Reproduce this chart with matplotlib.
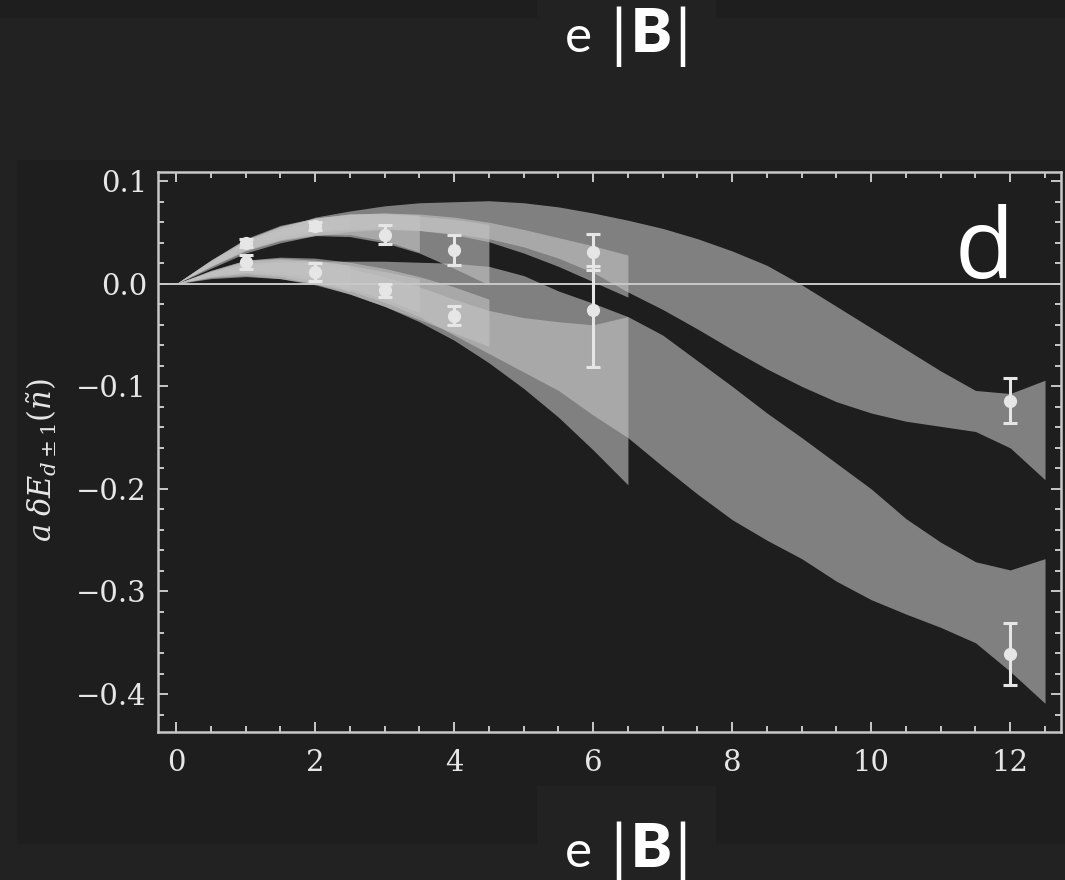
import matplotlib
matplotlib.use("Agg")
import matplotlib.pyplot as plt
from matplotlib.patches import Rectangle
from matplotlib.ticker import MultipleLocator

W, H = 1065, 880

# shared sampling grid for the fit bands
band_x = [0.0, 0.5, 1.0, 1.5, 2.0, 2.5, 3.0, 3.5, 4.0, 4.5, 5.0, 5.5, 6.0,
          6.5, 7.0, 7.5, 8.0, 8.5, 9.0, 9.5, 10.0, 10.5, 11.0, 11.5, 12.0, 12.5]

# d+1 branch: fit bands truncated at eB = 2.5, 3.5, 4.5, 6.5, 12.5
up_25_hi = [0.0, 0.022, 0.042, 0.054, 0.061, 0.064]
up_25_lo = [0.0, 0.018, 0.035, 0.046, 0.052, 0.055]
up_35_hi = [0.0, 0.023, 0.044, 0.057, 0.064, 0.068, 0.069, 0.067]
up_35_lo = [0.0, 0.017, 0.033, 0.043, 0.048, 0.048, 0.042, 0.031]
up_45_hi = [0.0, 0.023, 0.043, 0.056, 0.064, 0.068, 0.068, 0.066, 0.063, 0.058]
up_45_lo = [0.0, 0.017, 0.032, 0.042, 0.047, 0.046, 0.040, 0.030, 0.015, -0.001]
up_65_hi = [0.0, 0.023, 0.043, 0.056, 0.064, 0.068, 0.069, 0.068, 0.065, 0.060,
            0.053, 0.045, 0.037, 0.028]
up_65_lo = [0.0, 0.017, 0.033, 0.043, 0.050, 0.053, 0.054, 0.052, 0.048, 0.041,
            0.030, 0.017, 0.002, -0.013]
up_125_hi = [0.0, 0.022, 0.040, 0.054, 0.065, 0.071, 0.076, 0.079, 0.080, 0.081,
             0.079, 0.075, 0.069, 0.062, 0.054, 0.044, 0.032, 0.018, -0.001,
             -0.022, -0.043, -0.064, -0.085, -0.104, -0.107, -0.094]
up_125_lo = [0.0, 0.015, 0.030, 0.040, 0.047, 0.051, 0.053, 0.052, 0.049, 0.044,
             0.036, 0.025, 0.011, -0.008, -0.025, -0.044, -0.064, -0.083, -0.100,
             -0.115, -0.126, -0.134, -0.139, -0.144, -0.160, -0.191]

# d-1 branch
dn_25_hi = [0.0, 0.012, 0.022, 0.024, 0.022, 0.018]
dn_25_lo = [0.0, 0.008, 0.013, 0.012, 0.006, -0.008]
dn_35_hi = [0.0, 0.013, 0.023, 0.025, 0.023, 0.018, 0.012, 0.005]
dn_35_lo = [0.0, 0.007, 0.011, 0.009, 0.003, -0.005, -0.015, -0.028]
dn_45_hi = [0.0, 0.013, 0.023, 0.026, 0.025, 0.021, 0.015, 0.007, -0.003, -0.015]
dn_45_lo = [0.0, 0.007, 0.010, 0.007, 0.000, -0.010, -0.022, -0.035, -0.048, -0.061]
dn_65_hi = [0.0, 0.012, 0.020, 0.022, 0.020, 0.015, 0.007, -0.003, -0.015, -0.026,
            -0.033, -0.037, -0.040, -0.032]
dn_65_lo = [0.0, 0.006, 0.008, 0.005, -0.001, -0.010, -0.022, -0.037, -0.055, -0.077,
            -0.102, -0.130, -0.162, -0.196]
dn_125_hi = [0.0, 0.012, 0.018, 0.021, 0.022, 0.022, 0.022, 0.021, 0.020, 0.017,
             0.008, -0.007, -0.019, -0.032, -0.050, -0.075, -0.100, -0.126, -0.150,
             -0.175, -0.200, -0.229, -0.252, -0.271, -0.279, -0.268]
dn_125_lo = [0.0, 0.005, 0.007, 0.005, 0.000, -0.007, -0.018, -0.032, -0.050, -0.068,
             -0.086, -0.104, -0.128, -0.150, -0.178, -0.205, -0.230, -0.250, -0.268,
             -0.290, -0.308, -0.322, -0.335, -0.350, -0.378, -0.409]

# lattice data points
n_pts = [1, 2, 3, 4, 6, 12]
up_val = [0.040, 0.0565, 0.048, 0.033, 0.031, -0.114]
up_err = [0.004, 0.004, 0.009, 0.015, 0.018, 0.022]
dn_val = [0.021, 0.0115, -0.0065, -0.031, -0.026, -0.361]
dn_err_lo = [0.007, 0.009, 0.006, 0.009, 0.055, 0.030]
dn_err_hi = [0.007, 0.009, 0.006, 0.009, 0.043, 0.030]

x_ticks = [0, 2, 4, 6, 8, 10, 12]
y_ticks = [-0.4, -0.3, -0.2, -0.1, 0.0, 0.1]

OUTER = "#222222"
PANEL = "#1e1e1e"
FG = "#e6e6e6"
AXC = "#c8c8c8"
BAND = "#c3c3c3"


def px_rect(fig, x0, y0, x1, y1, color):
    fig.patches.append(Rectangle((x0 / W, 1 - y1 / H), (x1 - x0) / W, (y1 - y0) / H,
                                 transform=fig.transFigure, color=color, zorder=-5))


def px_text(fig, x, y, s, **kw):
    return fig.text(x / W, 1 - y / H, s, **kw)


def draw_title(fig, y_base):
    px_text(fig, 565, y_base, "e", ha="left", va="baseline", color="white",
            family="Lato", weight="normal", fontsize=37)
    px_text(fig, 631, y_base, "B", ha="left", va="baseline", color="white",
            family="Lato", weight="heavy", fontsize=44)
    for xb in (618, 682):
        px_text(fig, xb, y_base + 4, "|", ha="center", va="baseline", color="white",
                family="Lato", weight="normal", fontsize=46)


def main():
    plt.rcParams["mathtext.fontset"] = "dejavuserif"
    fig = plt.figure(figsize=(W / 100, H / 100), dpi=100, facecolor=OUTER)

    # background panels
    px_rect(fig, 0, 0, W, 17, PANEL)
    px_rect(fig, 537, 0, 715, 17, OUTER)
    px_rect(fig, 17, 160, W, 843, PANEL)
    px_rect(fig, 537, 786, 715, 843, OUTER)

    ax = fig.add_axes([158 / W, 1 - 732 / H, (1061 - 158) / W, (732 - 172) / H])
    ax.set_zorder(1)
    ax.set_facecolor(PANEL)

    bands = [
        (up_25_lo, up_25_hi), (up_35_lo, up_35_hi), (up_45_lo, up_45_hi),
        (up_65_lo, up_65_hi), (up_125_lo, up_125_hi),
        (dn_25_lo, dn_25_hi), (dn_35_lo, dn_35_hi), (dn_45_lo, dn_45_hi),
        (dn_65_lo, dn_65_hi), (dn_125_lo, dn_125_hi),
    ]
    for lo, hi in bands:
        ax.fill_between(band_x[:len(hi)], lo, hi, color=BAND, alpha=0.6,
                        linewidth=0, zorder=1)

    ax.axhline(0, color=AXC, lw=1.4, zorder=2)

    ax.errorbar(n_pts, up_val, yerr=up_err, fmt="o", color=FG, ms=8.5,
                elinewidth=2.2, capsize=5, capthick=2.2, zorder=3)
    ax.errorbar(n_pts, dn_val, yerr=[dn_err_lo, dn_err_hi], fmt="o", color=FG,
                ms=8.5, elinewidth=2.2, capsize=5, capthick=2.2, zorder=3)

    ax.set_xlim(-0.26, 12.73)
    ax.set_ylim(-0.437, 0.109)
    ax.set_xticks(x_ticks)
    ax.set_yticks(y_ticks)
    ax.set_yticklabels(["\u22120.4", "\u22120.3", "\u22120.2", "\u22120.1", "0.0", "0.1"])
    ax.xaxis.set_minor_locator(MultipleLocator(0.5))
    ax.yaxis.set_minor_locator(MultipleLocator(0.02))
    ax.tick_params(which="both", direction="in", top=True, right=True,
                   color=AXC, width=1.4, labelcolor=FG, labelsize=21)
    ax.tick_params(which="major", length=7)
    ax.tick_params(which="minor", length=4)
    ax.tick_params(axis="x", pad=12)
    ax.tick_params(axis="y", pad=8)
    for lab in ax.get_xticklabels() + ax.get_yticklabels():
        lab.set_family("DejaVu Serif")
    for sp in ax.spines.values():
        sp.set_color(AXC)
        sp.set_linewidth(1.8)

    px_text(fig, 42, 460, r"$a\;\delta E_{d\pm1}(\tilde{n})$", rotation=90,
            ha="center", va="center", color=FG, fontsize=22)

    px_text(fig, 955, 278, "d", ha="left", va="baseline", color="white",
            family="Open Sans", fontsize=70)

    draw_title(fig, 52)
    draw_title(fig, 867)

    fig.savefig("out.png", dpi=100, facecolor=OUTER)


if __name__ == "__main__":
    main()
